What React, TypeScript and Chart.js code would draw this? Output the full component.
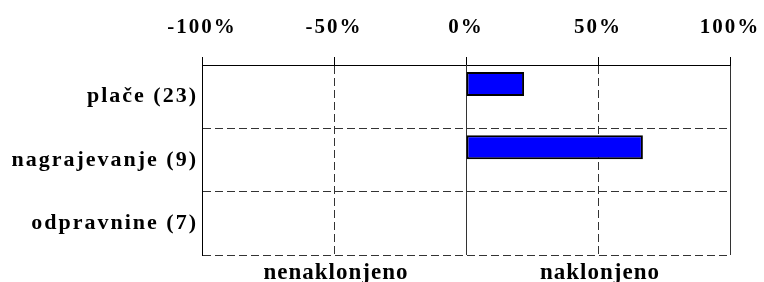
import React, { useEffect, useRef } from 'react';
import { Chart, registerables } from 'chart.js';

Chart.register(...registerables);

const categories = ['plače (23)', 'nagrajevanje (9)', 'odpravnine (7)'];
const naklonjeno = [22, 67, 0];
const nenaklonjeno = [0, 0, 0];
const xTickValues = [-100, -50, 0, 50, 100];
const sideLabels = ['nenaklonjeno', 'naklonjeno'];
const sideLabelValues = [-50, 50];

const FONT = '"Liberation Serif", "Times New Roman", serif';

export default function App() {
  const ref = useRef<HTMLCanvasElement>(null);

  useEffect(() => {
    if (!ref.current) return;

    const spacingPlugin = {
      id: 'spacing',
      beforeLayout(chart: any) {
        (chart.ctx as any).letterSpacing = '2px';
      },
      beforeDraw(chart: any) {
        (chart.ctx as any).letterSpacing = '2px';
      },
    };

    const sidePlugin = {
      id: 'sideLabels',
      afterDraw(chart: any) {
        const { ctx } = chart;
        const x = chart.scales.x;
        ctx.save();
        ctx.font = `bold 23px ${FONT}`;
        (ctx as any).letterSpacing = '1px';
        ctx.fillStyle = '#000';
        ctx.textAlign = 'center';
        ctx.textBaseline = 'alphabetic';
        sideLabels.forEach((t, i) => {
          ctx.fillText(t, x.getPixelForValue(sideLabelValues[i]) + 2, chart.chartArea.bottom + 24);
        });
        ctx.restore();
      },
    };

    const chart = new Chart(ref.current, {
      type: 'bar',
      data: {
        labels: categories,
        datasets: [
          {
            label: 'naklonjeno',
            data: naklonjeno,
            backgroundColor: '#0000FF',
            borderColor: '#000000',
            borderWidth: 2,
            borderSkipped: false,
            barPercentage: 0.95,
            categoryPercentage: 0.8,
          },
          {
            label: 'nenaklonjeno',
            data: nenaklonjeno,
            backgroundColor: '#0000FF',
            borderColor: '#000000',
            borderWidth: 0,
            barPercentage: 0.95,
            categoryPercentage: 0.8,
          },
        ],
      },
      options: {
        indexAxis: 'y',
        animation: false,
        responsive: false,
        maintainAspectRatio: false,
        layout: { padding: { top: 0, right: 34, bottom: 27, left: 0 } },
        plugins: {
          legend: { display: false },
          tooltip: { enabled: false },
        },
        scales: {
          x: {
            type: 'linear',
            position: 'top',
            min: -100,
            max: 100,
            afterBuildTicks: (scale: any) => {
              scale.ticks = xTickValues.map((v) => ({ value: v }));
            },
            afterFit: (scale: any) => {
              scale.height = 65;
              scale.paddingLeft = 0;
              scale.paddingRight = 0;
            },
            ticks: {
              callback: (v: any) => `${v}%`,
              color: '#000',
              font: { family: FONT, size: 21, weight: 'bold' },
              padding: 17,
              maxRotation: 0,
            },
            grid: {
              color: '#333',
              lineWidth: 1,
              drawTicks: true,
              tickLength: 8,
              tickColor: '#000',
              tickBorderDash: [],
            },
            border: {
              display: true,
              color: '#000',
              width: 1,
              dash: (ctx: any) =>
                ctx.tick && Math.abs(ctx.tick.value) === 50 ? [8, 4] : [],
            },
          },
          y: {
            type: 'category',
            afterFit: (scale: any) => {
              scale.width = 202;
              scale.paddingTop = 0;
              scale.paddingBottom = 0;
            },
            ticks: {
              color: '#000',
              font: { family: FONT, size: 22, weight: 'bold' },
              padding: 4,
            },
            grid: {
              offset: true,
              color: (ctx: any) =>
                ctx.index === 0
                  ? 'rgba(0,0,0,0)'
                  : ctx.index === categories.length
                  ? '#000'
                  : '#333',
              lineWidth: 1,
              drawTicks: false,
            },
            border: {
              display: true,
              color: '#000',
              width: 1,
              dash: (ctx: any) =>
                ctx.index === 0 || ctx.index === categories.length ? [] : [8, 4],
            },
          },
        },
      },
      plugins: [spacingPlugin, sidePlugin],
    } as any);

    return () => chart.destroy();
  }, []);

  return (
    <div style={{ position: 'fixed', left: 0, top: 0, width: 764, height: 282, background: '#fff' }}>
      <canvas ref={ref} width={764} height={282} style={{ display: 'block' }} />
    </div>
  );
}
